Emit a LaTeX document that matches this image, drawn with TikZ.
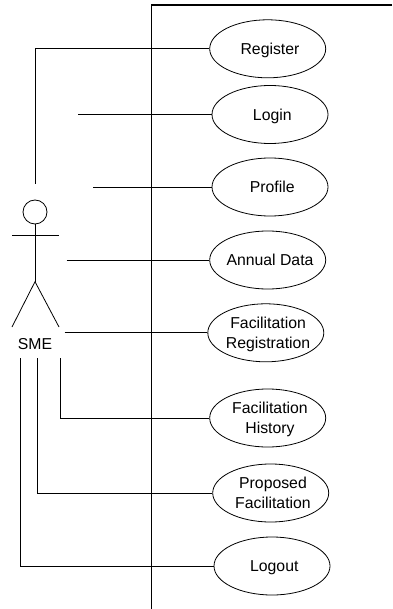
\documentclass[tikz,border=0pt]{standalone}
\usepackage{fontspec}
\setmainfont{Liberation Sans}
\usetikzlibrary{shapes.geometric}
\tikzset{
    usecase/.style={draw,ellipse,minimum width=116pt,minimum height=58pt,inner xsep=-12pt,inner ysep=0pt,align=center,text depth=0pt,execute at begin node={\hskip4.6pt}},
    actorhead/.style={draw,circle,minimum size=24pt,inner sep=0pt},
    label/.style={inner sep=0pt,text depth=0pt}
}
\begin{document}
\begin{tikzpicture}[x=1pt,y=-1pt,line width=0.8pt,font=\fontsize{15.8}{20}\selectfont]
\useasboundingbox (0,0) rectangle (392,609);
\draw[line width=1.1pt] (392,5)--(151.5,5)--(151.5,609);
% use cases
\node[usecase] (register) at (267.7,48.8) {Register};
\node[usecase] (login) at (270,114.5) {Login};
\node[usecase] (profile) at (270,187) {Profile};
\node[usecase] (annual) at (267.7,260) {Annual Data};
\node[usecase] (registration) at (265.8,332.8) {Facilitation\\Registration};
\node[usecase] (history) at (267.7,418) {Facilitation\\History};
\node[usecase] (proposed) at (270.7,493) {Proposed\\Facilitation};
\node[usecase] (logout) at (272,566) {Logout};
% actor
\node[actorhead] (head) at (35,212) {};
\coordinate (hip) at (35,281.7);
\draw (head.south)--(hip);
\draw (12,235)--(59,235);
\draw (12,327)--(hip)--(59,327);
\node[label] (sme) at (35,344) {SME};
% connectors
\coordinate (registerend) at (35,184);
\coordinate (loginend) at (78,114.5);
\coordinate (profileend) at (93,187);
\coordinate (annualend) at (66.7,260);
\coordinate (registrationend) at (64.5,332.8);
\coordinate (historyend) at (60,358);
\coordinate (proposedend) at (37.7,358);
\coordinate (logoutend) at (20.5,358);
\foreach \a in {login,profile,annual,registration}
    \draw (\a end)--(\a.west);
\foreach \a in {register,history,proposed,logout}
    \draw (\a end)|-(\a.west);
\end{tikzpicture}
\end{document}
